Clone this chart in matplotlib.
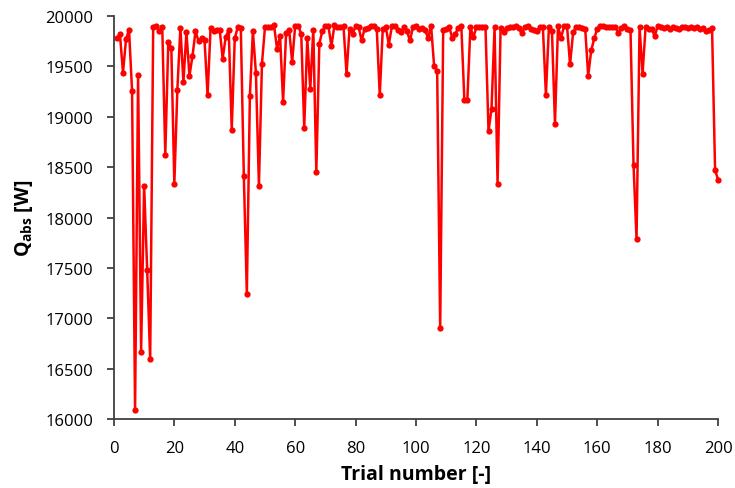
import numpy as np
import matplotlib
matplotlib.use("Agg")
import matplotlib.pyplot as plt

plt.rcParams["font.family"] = ["Open Sans", "DejaVu Sans"]
plt.rcParams["mathtext.fontset"] = "custom"
plt.rcParams["mathtext.bf"] = "Open Sans:bold"
plt.rcParams["mathtext.rm"] = "Open Sans"

# absorbed heat per trial
q_abs = [
    # trials 1-33
    19778, 19818, 19437, 19768, 19867, 19261, 16091, 19420, 16670, 18317,
    17482, 16594, 19891, 19897, 19851, 19891, 18625, 19745, 19685, 18334,
    19271, 19884, 19344, 19841, 19407, 19602, 19851, 19752, 19778, 19758,
    19215, 19884, 19851,
    # trials 34-66
    19867, 19867, 19579, 19791, 19861, 18874, 19778, 19891, 19884, 18416,
    17244, 19205, 19851, 19437, 18317, 19526, 19891, 19891, 19891, 19910,
    19675, 19801, 19149, 19834, 19867, 19546, 19904, 19904, 19824, 18890,
    19778, 19278, 19867,
    # trials 67-100
    18450, 19728, 19851, 19897, 19900, 19702, 19910, 19891, 19891, 19900,
    19427, 19877, 19824, 19897, 19891, 19758, 19877, 19884, 19900, 19900,
    19877, 19215, 19877, 19891, 19718, 19897, 19900, 19864, 19844, 19891,
    19851, 19758, 19891, 19900,
    # trials 101-132
    19877, 19884, 19861, 19785, 19900, 19503, 19460, 16902, 19867, 19877,
    19891, 19785, 19824, 19884, 19900, 19172, 19172, 19891, 19791, 19891,
    19891, 19891, 19891, 18857, 19082, 19891, 18334, 19884, 19844, 19884,
    19890, 19890,
    # trials 133-180
    19900, 19880, 19831, 19890, 19897, 19877, 19864, 19851, 19890, 19890,
    19221, 19894, 19851, 18933, 19897, 19785, 19897, 19897, 19520, 19838,
    19890, 19890, 19884, 19877, 19410, 19659, 19778, 19877, 19900, 19900,
    19890, 19890, 19890, 19890, 19834, 19884, 19897, 19877, 19867, 18526,
    17787, 19890, 19430, 19890, 19877, 19877, 19801, 19897,
    # trials 181-200
    19890, 19880, 19890, 19870, 19890, 19880, 19870, 19890, 19890, 19880,
    19890, 19880, 19890, 19870, 19880, 19850, 19860, 19880, 18470, 18377,
]
trials = np.arange(1, len(q_abs) + 1)

fig = plt.figure(figsize=(7.35, 4.89), dpi=100)
ax = fig.add_axes([0.155, 0.141, 0.822, 0.824])

ax.plot(trials, q_abs, color="#ff0000", lw=1.8, marker="o", ms=4.5,
        markeredgewidth=0, clip_on=False)

ax.set_xlim(0, 200)
ax.set_ylim(16000, 20000)
ax.set_xticks(np.arange(0, 201, 20))
ax.set_yticks(np.arange(16000, 20001, 500))

for side in ["top", "right"]:
    ax.spines[side].set_visible(False)
for side in ["left", "bottom"]:
    ax.spines[side].set_color("#404040")
    ax.spines[side].set_linewidth(1.3)
ax.tick_params(direction="out", length=5, width=1.3, color="#404040",
               labelsize=12, pad=10)

ax.set_xlabel("Trial number [-]", fontsize=14, fontweight="bold", labelpad=5.5)
ax.set_ylabel(r"Q$_{\mathbf{abs}}$ [W]", fontsize=14, fontweight="bold",
              labelpad=7.5)

fig.savefig("out.png", dpi=100)
